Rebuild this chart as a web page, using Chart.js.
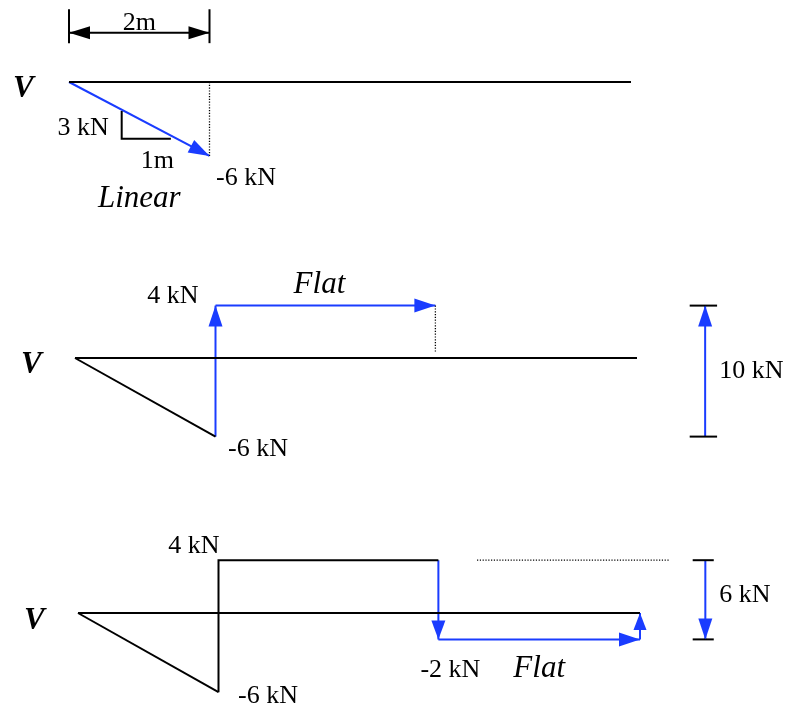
<!DOCTYPE html>
<html>
<head>
<meta charset="utf-8">
<script src="https://cdn.jsdelivr.net/npm/chart.js@4/dist/chart.umd.min.js"></script>
<style>
  html, body { margin: 0; padding: 0; background: #ffffff; }
  #c { display: block; }
</style>
</head>
<body>
<canvas id="c" width="785" height="711"></canvas>
<script>
// ---------------- DATA (x in metres, V in kN) ----------------
const beamX = [0, 8];
const beamV = [0, 0];

// Panel 1 : linear part of shear diagram
const p1SlopeX = [0, 2];        const p1SlopeV = [0, -6];
const p1DropX  = [2, 2];        const p1DropV  = [0, -6];
const p1TriX   = [0.75, 0.75, 1.45]; const p1TriV = [-2.35, -4.6, -4.6];
const p1DimX   = [0, 2];        const p1DimV   = [4, 4];
const p1DimTickV = [3.15, 5.9];

// Panel 2 : jump of +10 kN then flat
const p2SlopeX = [0, 2];        const p2SlopeV = [0, -6];
const p2JumpX  = [2, 2];        const p2JumpV  = [-6, 4];
const p2FlatX  = [2, 5.13];     const p2FlatV  = [4, 4];
const p2DropX  = [5.13, 5.13];  const p2DropV  = [4, 0.5];
const p2DimX   = [8.97, 8.97];  const p2DimV   = [-6, 4];
const p2DimTickX = [8.75, 9.14];

// Panel 3 : drop of 6 kN then flat, closing at the end
const p3SlopeX = [0, 2];        const p3SlopeV = [0, -6];
const p3StepX  = [2, 2, 5.13];  const p3StepV  = [-6, 4, 4];
const p3DropX  = [5.13, 5.13];  const p3DropV  = [4, -2];
const p3FlatX  = [5.13, 8];     const p3FlatV  = [-2, -2];
const p3RiseX  = [8, 8];        const p3RiseV  = [-2, 0];
const p3RefX   = [5.68, 8.43];  const p3RefV   = [4, 4];
const p3DimX   = [8.93, 8.93];  const p3DimV   = [4, -2];
const p3DimTickX = [8.75, 9.05];

// Text labels and their anchor points (data units)
const labelText   = ['V', '2m', '3 kN', '1m', '-6 kN', 'Linear',
                     'V', '4 kN', 'Flat', '-6 kN', '10 kN',
                     'V', '4 kN', '-6 kN', '-2 kN', 'Flat', '6 kN'];
const labelPanel  = [1, 1, 1, 1, 1, 1, 2, 2, 2, 2, 2, 3, 3, 3, 3, 3, 3];
const labelAnchorX = [0, 1, 0.75, 1.1, 2, 1, 0, 2, 3.565, 2, 8.97, 0, 2, 2, 5.13, 6.565, 8.93];
const labelAnchorV = [0, 4, -4.6, -4.6, -6, -6, 0, 4, 4, -6, -1, 0, 4, -6, -2, -2, 1];

// ---------------- LAYOUT / STYLE ----------------
const W = 785, H = 711;
const PX_PER_M = 70.25;
const PANEL_LAYOUT = [
  { left: 69, base: 82,  k: 12.33 },
  { left: 75, base: 358, k: 13.1 },
  { left: 78, base: 613, k: 13.2 }
];
const BLACK = '#000000';
const BLUE = '#1a3cff';
const SERIF = '"Liberation Serif", "Times New Roman", serif';
const FONT_REG = '26px ' + SERIF;
const FONT_IT = 'italic 31px ' + SERIF;
const FONT_V = 'italic bold 31px ' + SERIF;
// per label: font, align, dx, dy (pixels)
const LABEL_STYLE = [
  [FONT_V, 'left', -56, 15],
  [FONT_REG, 'center', 0, -3],
  [FONT_REG, 'right', -13, -4],
  [FONT_REG, 'center', 11, 29],
  [FONT_REG, 'left', 6.5, 29],
  [FONT_IT, 'center', 0, 51],
  [FONT_V, 'left', -54, 15],
  [FONT_REG, 'right', -17, -3],
  [FONT_IT, 'center', -6, -13],
  [FONT_REG, 'left', 12.5, 19],
  [FONT_REG, 'left', 14, 7],
  [FONT_V, 'left', -54, 16],
  [FONT_REG, 'right', 1, -7],
  [FONT_REG, 'left', 19.5, 11],
  [FONT_REG, 'left', -18, 38],
  [FONT_IT, 'center', 0, 38],
  [FONT_REG, 'left', 14, 2]
];

// ---------------- DATASETS ----------------
function seg(xs, vs, panel, style) {
  return Object.assign({
    data: xs.map((x, i) => ({ x: x, y: vs[i] })),
    xAxisID: 'x' + panel,
    yAxisID: 'y' + panel,
    showLine: true,
    pointRadius: 0,
    pointHoverRadius: 0,
    borderColor: BLACK,
    backgroundColor: BLACK,
    borderWidth: 2,
    fill: false,
    tension: 0
  }, style || {});
}
const dotted = { borderWidth: 1.3, borderDash: [1.2, 1.6] };
const HEAD = { len: 21, half: 7 };
const blueArrow = { borderColor: BLUE, backgroundColor: BLUE, arrowEnd: HEAD };

const datasets = [
  // panel 1
  seg(beamX, beamV, 1),
  seg(p1DropX, p1DropV, 1, dotted),
  seg(p1TriX, p1TriV, 1),
  seg(p1DimX, p1DimV, 1, { arrowEnd: { len: 21, half: 6.5 }, arrowStart: { len: 21, half: 6.5 } }),
  seg([p1DimX[0], p1DimX[0]], p1DimTickV, 1),
  seg([p1DimX[1], p1DimX[1]], p1DimTickV, 1),
  seg(p1SlopeX, p1SlopeV, 1, blueArrow),
  // panel 2
  seg(beamX, beamV, 2),
  seg(p2SlopeX, p2SlopeV, 2),
  seg(p2DropX, p2DropV, 2, dotted),
  seg(p2JumpX, p2JumpV, 2, blueArrow),
  seg(p2FlatX, p2FlatV, 2, blueArrow),
  seg(p2DimTickX, [p2DimV[0], p2DimV[0]], 2),
  seg(p2DimTickX, [p2DimV[1], p2DimV[1]], 2),
  seg(p2DimX, p2DimV, 2, blueArrow),
  // panel 3
  seg(beamX, beamV, 3),
  seg(p3SlopeX, p3SlopeV, 3),
  seg(p3StepX, p3StepV, 3),
  seg(p3RefX, p3RefV, 3, dotted),
  seg(p3DropX, p3DropV, 3, Object.assign({}, blueArrow, { arrowEnd: { len: 19, half: 7 } })),
  seg(p3FlatX, p3FlatV, 3, blueArrow),
  seg(p3RiseX, p3RiseV, 3, Object.assign({}, blueArrow, { arrowEnd: { len: 17, half: 6.5 } })),
  seg(p3DimTickX, [p3DimV[0], p3DimV[0]], 3),
  seg(p3DimTickX, [p3DimV[1], p3DimV[1]], 3),
  seg(p3DimX, p3DimV, 3, blueArrow)
];

// ---------------- SCALES ----------------
const scales = {};
PANEL_LAYOUT.forEach((p, i) => {
  const n = i + 1;
  const xmin = -p.left / PX_PER_M;
  scales['x' + n] = { type: 'linear', display: false, min: xmin, max: xmin + W / PX_PER_M };
  const ymax = p.base / p.k;
  scales['y' + n] = { type: 'linear', display: false, min: ymax - H / p.k, max: ymax };
});

// ---------------- PLUGINS ----------------
function drawHead(ctx, tip, from, spec, color) {
  const ang = Math.atan2(tip.y - from.y, tip.x - from.x);
  const bx = tip.x - spec.len * Math.cos(ang);
  const by = tip.y - spec.len * Math.sin(ang);
  const nx = -Math.sin(ang) * spec.half, ny = Math.cos(ang) * spec.half;
  ctx.beginPath();
  ctx.moveTo(tip.x, tip.y);
  ctx.lineTo(bx + nx, by + ny);
  ctx.lineTo(bx - nx, by - ny);
  ctx.closePath();
  ctx.fillStyle = color;
  ctx.fill();
}
const arrowPlugin = {
  id: 'arrows',
  afterDatasetsDraw(chart) {
    const ctx = chart.ctx;
    ctx.save();
    chart.data.datasets.forEach((ds, i) => {
      const pts = chart.getDatasetMeta(i).data;
      if (ds.arrowEnd) drawHead(ctx, pts[pts.length - 1], pts[pts.length - 2], ds.arrowEnd, ds.borderColor);
      if (ds.arrowStart) drawHead(ctx, pts[0], pts[1], ds.arrowStart, ds.borderColor);
    });
    ctx.restore();
  }
};
const textPlugin = {
  id: 'texts',
  afterDraw(chart) {
    const ctx = chart.ctx;
    ctx.save();
    ctx.fillStyle = BLACK;
    ctx.textBaseline = 'alphabetic';
    labelText.forEach((t, i) => {
      const p = labelPanel[i];
      const st = LABEL_STYLE[i];
      const px = chart.scales['x' + p].getPixelForValue(labelAnchorX[i]);
      const py = chart.scales['y' + p].getPixelForValue(labelAnchorV[i]);
      ctx.font = st[0];
      ctx.textAlign = st[1];
      ctx.fillText(t, px + st[2], py + st[3]);
    });
    ctx.restore();
  }
};

new Chart(document.getElementById('c'), {
  type: 'scatter',
  data: { datasets: datasets },
  options: {
    responsive: false,
    animation: false,
    events: [],
    devicePixelRatio: 1,
    layout: { padding: 0 },
    scales: scales,
    plugins: { legend: { display: false }, tooltip: { enabled: false } }
  },
  plugins: [arrowPlugin, textPlugin]
});
</script>
</body>
</html>
